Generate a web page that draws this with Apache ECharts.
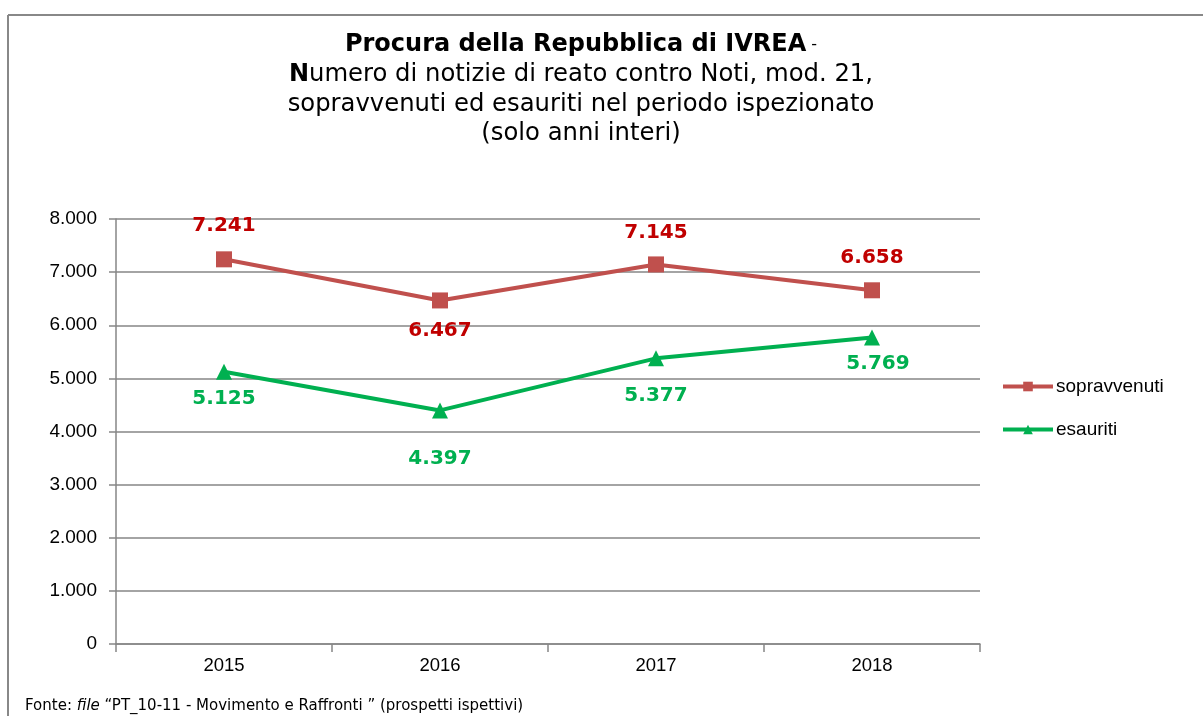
<!DOCTYPE html>
<html>
<head>
<meta charset="utf-8">
<script src="https://cdn.jsdelivr.net/npm/echarts@6/dist/echarts.min.js"></script>
<style>html,body{margin:0;padding:0;background:#fff}#c{width:1203px;height:716px}</style>
</head>
<body>
<div id="c"></div>
<script>
const categories = ['2015', '2016', '2017', '2018'];
const sopravvenuti = [7241, 6467, 7145, 6658];
const esauriti = [5125, 4397, 5377, 5769];
const yTicks = [0, 1000, 2000, 3000, 4000, 5000, 6000, 7000, 8000];

// label placement (style only)
const sopravvenutiLabelPos = ['top', 'bottom', 'top', 'top'];
const sopravvenutiLabelDist = [16, 12, 14, 14];
const esauritiLabelPos = ['bottom', 'bottom', 'bottom', 'bottom'];
const esauritiLabelDist = [9, 30, 19, 8];
const esauritiLabelShift = [0, 0, 0, 6];

function fmt(v) {
  return String(v).replace(/\B(?=(\d{3})+(?!\d))/g, '.');
}

const chart = echarts.init(document.getElementById('c'), null, {renderer: 'canvas'});
const option = {
  backgroundColor: '#ffffff',
  animation: false,
  title: {
    left: 576,
    top: 25,
    textAlign: 'center',
    text: '{b|Procura della Repubblica di IVREA} {s|-}\n{b|N}{r|umero di notizie di reato contro Noti, mod. 21,}\n{r|sopravvenuti ed esauriti nel periodo ispezionato}\n{r|(solo anni interi)}',
    textStyle: {
      rich: {
        b: {fontFamily: 'DejaVu Sans', fontWeight: 'bold', fontSize: 24, color: '#000', lineHeight: 29.7},
        r: {fontFamily: 'DejaVu Sans', fontWeight: 'normal', fontSize: 24.3, color: '#000', lineHeight: 29.7},
        s: {fontFamily: 'DejaVu Sans', fontWeight: 'normal', fontSize: 16, color: '#000', lineHeight: 29.7}
      }
    }
  },
  legend: {
    orient: 'vertical',
    left: 996,
    top: 372,
    itemWidth: 50,
    itemHeight: 12,
    itemGap: 24,
    lineStyle: {width: 4},
    textStyle: {fontFamily: 'Liberation Sans', fontSize: 19, color: '#000', padding: [0, 0, 0, -2]},
    data: ['sopravvenuti', 'esauriti']
  },
  grid: {left: 116, right: 223, top: 219, bottom: 72, containLabel: false},
  xAxis: {
    type: 'category',
    data: categories,
    boundaryGap: true,
    axisLine: {lineStyle: {color: '#868686', width: 1.5}},
    axisTick: {show: true, length: 8, lineStyle: {color: '#868686', width: 1.5}},
    axisLabel: {fontFamily: 'Liberation Sans', fontSize: 18.5, color: '#000', margin: 12}
  },
  yAxis: {
    type: 'value',
    min: 0,
    max: 8000,
    interval: 1000,
    axisLine: {show: true, lineStyle: {color: '#868686', width: 1.5}},
    axisTick: {show: true, length: 7, lineStyle: {color: '#868686', width: 1.5}},
    splitLine: {show: true, lineStyle: {color: '#868686', width: 1.5}},
    axisLabel: {
      fontFamily: 'Liberation Sans', fontSize: 19, color: '#000', margin: 19,
      formatter: function (v) { return yTicks.indexOf(v) >= 0 ? fmt(v) : ''; }
    }
  },
  series: [
    {
      name: 'sopravvenuti',
      type: 'line',
      data: sopravvenuti.map((v, i) => ({value: v, label: {position: sopravvenutiLabelPos[i], distance: sopravvenutiLabelDist[i]}})),
      symbol: 'rect',
      symbolSize: 16,
      itemStyle: {color: '#C0504D'},
      lineStyle: {color: '#C0504D', width: 4},
      label: {
        show: true,
        fontFamily: 'DejaVu Sans', fontWeight: 'bold', fontSize: 20, color: '#C00000',
        formatter: p => fmt(p.value)
      }
    },
    {
      name: 'esauriti',
      type: 'line',
      data: esauriti.map((v, i) => ({value: v, label: {position: esauritiLabelPos[i], distance: esauritiLabelDist[i], offset: [esauritiLabelShift[i], 0]}})),
      symbol: 'triangle',
      symbolSize: 16,
      itemStyle: {color: '#00B050'},
      lineStyle: {color: '#00B050', width: 4},
      label: {
        show: true,
        fontFamily: 'DejaVu Sans', fontWeight: 'bold', fontSize: 20, color: '#00B050',
        formatter: p => fmt(p.value)
      }
    }
  ],
  graphic: [
    {type: 'line', shape: {x1: 8, y1: 15, x2: 1203, y2: 15}, style: {stroke: '#888888', lineWidth: 2}},
    {type: 'line', shape: {x1: 8, y1: 15, x2: 8, y2: 716}, style: {stroke: '#888888', lineWidth: 2}},
    {
      type: 'text', left: 25, top: 699,
      style: {
        text: '{n|Fonte: }{i|file}{n| \u201CPT_10-11 - Movimento e Raffronti \u201D (prospetti ispettivi)}',
        rich: {
          n: {fontFamily: 'DejaVu Sans', fontSize: 15, fill: '#000'},
          i: {fontFamily: 'DejaVu Sans', fontStyle: 'italic', fontSize: 15, fill: '#000'}
        }
      }
    }
  ]
};
chart.setOption(option);
</script>
</body>
</html>
